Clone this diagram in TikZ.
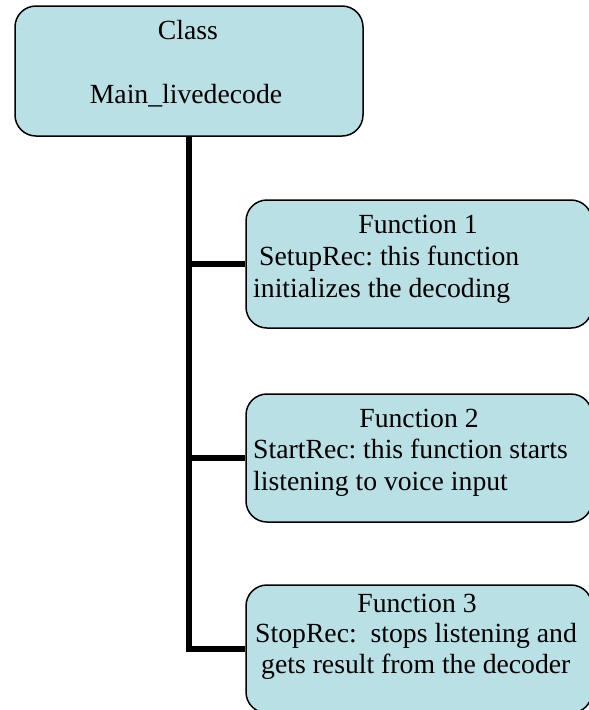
\documentclass[tikz,border=0pt]{standalone}
\usepackage{fontspec}
\setmainfont{Liberation Serif}
\newfontfamily\boxfont{Liberation Serif}
\frenchspacing
\definecolor{boxfill}{RGB}{185,224,228}
\tikzset{
  box/.style={draw=black, line width=1.5pt, fill=boxfill, rounded corners=21pt,
    inner sep=0pt, minimum width=#1, minimum height=128pt},
  box/.default=346pt,
  txt/.style={inner sep=0pt, font=\boxfont\frenchspacing\fontsize{27.7}{31}\selectfont},
  conn/.style={draw=black, line width=5.5pt, line join=miter},
}
\begin{document}
\begin{tikzpicture}[x=1pt, y=-1pt]
  \clip (0,0) rectangle (589,710);
  \fill[white] (0,0) rectangle (589,710);

  % class box and its three function boxes
  \node[box=348pt, minimum height=130pt] (cls) at (189,71) {};
  \node[box] (f1) at (419,264) {};
  \node[box] (f2) at (419,458) {};
  \node[box] (f3) at (419,649) {};

  % tree connectors
  \draw[conn] (cls.south) |- (f3.west);
  \draw[conn] (cls.south |- f1.west) -- (f1.west);
  \draw[conn] (cls.south |- f2.west) -- (f2.west);

  % labels
  \node[txt, anchor=base] (clsA) at (188,39) {Class};
  \node[txt, anchor=base] (clsB) at (186,103) {Main\_livedecode};

  \node[txt, anchor=base] (f1a) at (418,233) {Function 1};
  \node[txt, anchor=base west] (f1b) at (259,265) {SetupRec: this function};
  \node[txt, anchor=base west] (f1c) at (253,297) {initializes the decoding};

  \node[txt, anchor=base] (f2a) at (419,427) {Function 2};
  \node[txt, anchor=base west] (f2b) at (253,458) {StartRec: this function starts};
  \node[txt, anchor=base west] (f2c) at (253,490) {listening to voice input};

  \node[txt, anchor=base] (f3a) at (417,612) {Function 3};
  \node[txt, anchor=base west] (f3b) at (255,642) {StopRec:\ \ stops listening and};
  \node[txt, anchor=base west] (f3c) at (261,673) {gets result from the decoder};
\end{tikzpicture}
\end{document}
